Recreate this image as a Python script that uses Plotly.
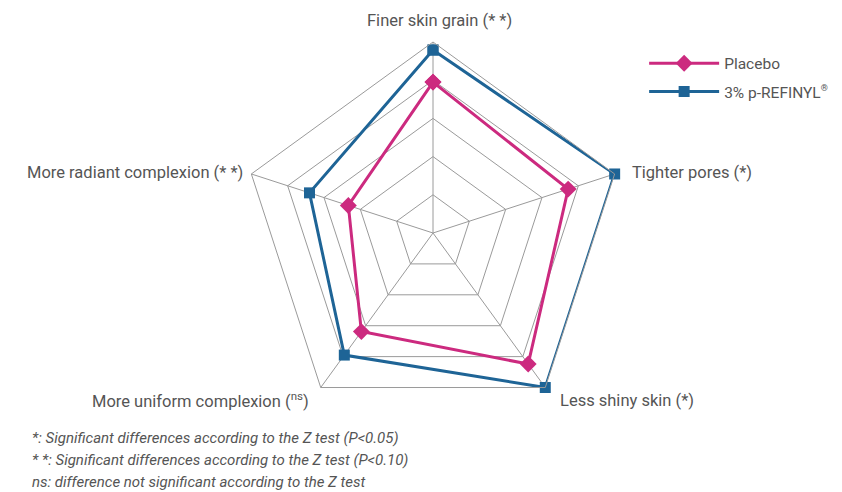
import plotly.graph_objects as go

# Attribute scores on a 0-5 scale
categories = [
    "Finer skin grain",
    "Tighter pores",
    "Less shiny skin",
    "More uniform complexion",
    "More radiant complexion",
]
axis_labels = [
    "Finer skin grain (* *)",
    "Tighter pores (*)",
    "Less shiny skin (*)",
    "More uniform complexion (<sup>ns</sup>)",
    "More radiant complexion (* *)",
]
placebo = [3.95, 3.72, 4.24, 3.19, 2.33]
refinyl = [4.79, 5.0, 5.0, 3.95, 3.4]

series_names = ["Placebo", "3% p-REFINYL<sup><span style='font-size:9px'>®</span></sup>"]
footnotes = [
    "*: Significant differences according to the Z test (P&lt;0.05)",
    "* *: Significant differences according to the Z test (P&lt;0.10)",
    "ns: difference not significant according to the Z test",
]

PINK = "#CC2A7F"
BLUE = "#1E6496"
GRID = "#9a9a9a"
TEXT = "#555555"

def closed(vals):
    return vals + vals[:1]

fig = go.Figure()
fig.add_trace(go.Scatterpolar(
    r=closed(placebo), theta=closed(categories), name=series_names[0],
    legendgroup="placebo", mode="lines+markers",
    line=dict(color=PINK, width=3),
    marker=dict(symbol="diamond", size=13, color=PINK),
))
fig.add_trace(go.Scatterpolar(
    r=closed(refinyl), theta=closed(categories), name=series_names[1],
    legendgroup="refinyl", mode="lines+markers",
    line=dict(color=BLUE, width=3),
    marker=dict(symbol="square", size=11, color=BLUE),
))

W, H = 842, 492
cx, cy, R = 433, 233, 191
fig.update_layout(
    width=W, height=H,
    margin=dict(l=0, r=0, t=0, b=0),
    paper_bgcolor="white",
    font=dict(family="Roboto, sans-serif", size=16, color=TEXT),
    polar=dict(
        domain=dict(x=[(cx - R) / W, (cx + R) / W], y=[1 - (cy + R) / H, 1 - (cy - R) / H]),
        gridshape="linear",
        bgcolor="white",
        radialaxis=dict(range=[0, 5], dtick=1, showticklabels=False, ticks="",
                        gridcolor=GRID, gridwidth=1, showline=False),
        angularaxis=dict(rotation=90, direction="clockwise", gridcolor=GRID,
                         linecolor=GRID, linewidth=1, ticks="",
                         showticklabels=False),
    ),
    legend=dict(x=0.765, y=0.905, xanchor="left", yanchor="top",
                font=dict(size=15.5, color=TEXT), itemwidth=70,
                tracegroupgap=5, bgcolor="rgba(0,0,0,0)"),
)

# Axis captions placed around the outer pentagon
label_pos = [
    (440, 20, "center"),
    (630, 173, "left"),
    (558, 400, "left"),
    (311, 400, "right"),
    (245, 173, "right"),
]
for text, (px, py, anchor) in zip(axis_labels, label_pos):
    fig.add_annotation(
        x=px / W, y=1 - py / H, xref="paper", yref="paper",
        xanchor=anchor, yanchor="middle", showarrow=False,
        text=text, font=dict(size=16.5, color=TEXT),
    )

for i, t in enumerate(footnotes):
    fig.add_annotation(
        x=30 / W, y=1 - (438 + 22 * i) / H, xref="paper", yref="paper",
        xanchor="left", yanchor="middle", showarrow=False,
        text="<i>" + t + "</i>", font=dict(size=15, color=TEXT),
    )

fig.write_html("out.html")
